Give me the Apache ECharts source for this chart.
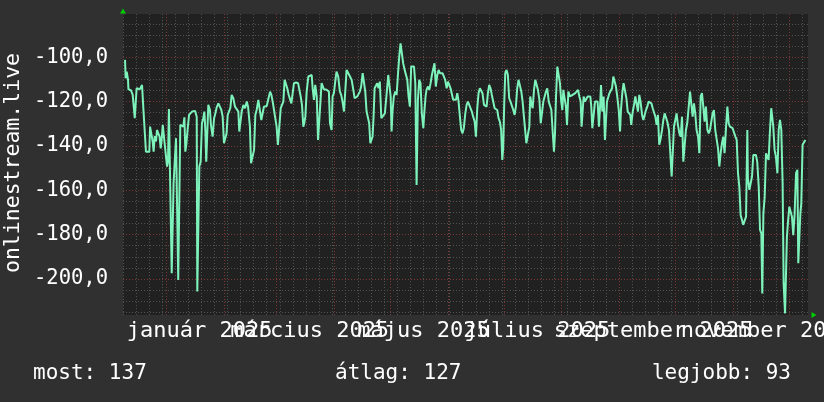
<!DOCTYPE html>
<html><head><meta charset="utf-8">
<script src="https://cdn.jsdelivr.net/npm/echarts@6/dist/echarts.min.js"></script>
<style>html,body{margin:0;padding:0;background:#303030;}#chart{width:824px;height:402px;}</style>
</head><body><div id="chart"></div>
<script>
// ---- data ----
const startDateUTC = Date.UTC(2024, 11, 9); // day 0 of the x axis
const totalDays = 367;
const dayOffsets = [
1.1,1.4,2.0,2.7,2.9,4.3,5.2,5.9,6.3,7.0,7.3,8.2,9.1,10.2,10.9,11.6,12.3,14.1,14.5,15.2,15.9,16.4,17.0,17.7,18.2,18.9,19.6,20.2,20.7,21.3,21.8,22.3,23.0,23.6,24.1,24.6,25.4,26.1,26.6,27.1,27.7,28.4,28.9,29.6,30.2,30.7,31.6,32.3,32.9,33.4,33.9,34.6,35.4,36.3,37.0,37.7,38.6,39.5,39.8,40.4,40.9,41.6,42.3,43.0,43.6,44.1,44.6,45.2,45.7,46.6,47.1,48.0,48.8,49.5,50.2,51.1,52.0,52.7,53.4,54.1,54.8,55.5,56.1,56.8,57.5,58.2,59.1,60.0,60.9,61.8,62.3,63.0,63.6,64.5,65.4,66.3,67.0,67.5,68.0,68.6,69.5,70.2,70.9,71.6,72.5,73.4,74.1,74.8,75.5,77.0,78.0,78.8,79.5,80.2,80.9,81.6,82.3,83.0,83.8,84.5,85.2,85.9,86.6,87.3,88.0,88.8,89.5,90.2,90.9,91.6,92.7,93.8,94.5,95.2,95.9,96.6,97.1,97.7,98.4,99.3,100.2,101.1,101.6,102.3,103.0,103.8,104.5,105.5,
106.4,107.6,109.1,110.3,110.9,111.75,112.3,113.0,113.7,114.4,115.3,116.2,116.9,117.6,118.4,119.1,119.8,120.7,121.6,122.5,123.4,124.1,124.8,125.5,126.2,126.9,127.6,128.4,129.1,129.8,130.5,131.4,131.9,132.5,133.2,133.7,134.25,134.8,135.5,136.2,136.9,137.6,138.4,139.4,140.3,141.2,142.1,142.6,143.4,143.9,144.4,145.1,145.9,146.6,147.3,148.0,148.7,149.4,150.1,150.9,151.6,152.3,153.0,153.7,154.4,155.1,155.9,156.6,157.3,158.0,158.7,159.4,160.1,160.9,161.4,162.1,162.6,163.4,164.1,164.8,165.5,166.2,166.9,167.6,168.4,169.1,169.8,170.5,171.2,171.9,172.6,173.4,174.1,174.8,175.5,176.2,176.9,177.6,178.4,179.1,179.8,180.5,181.2,181.9,182.6,183.4,184.1,184.8,185.5,186.2,186.9,187.6,188.4,189.1,189.8,190.5,191.2,191.9,192.6,193.4,194.1,194.8,195.5,196.2,196.9,197.6,198.4,199.1,199.8,200.5,201.2,201.9,202.6,203.2,203.7,204.25,204.8,205.5,206.2,206.9,207.6,208.4,209.1,209.8,210.5,211.2,211.9,212.6,
213.4,214.1,214.8,215.6,216.1,217.0,217.7,218.2,218.95,219.5,220.2,220.9,221.6,222.3,223.1,223.8,224.5,225.2,225.9,226.6,227.3,228.1,228.8,229.5,230.2,230.9,231.45,232.0,232.7,233.4,234.1,234.8,235.4,235.9,236.6,237.3,237.9,238.6,239.5,240.2,240.9,241.6,242.3,243.1,243.8,244.5,245.2,245.7,246.3,246.8,247.5,248.2,248.95,249.7,250.4,250.9,251.45,252.3,252.9,253.6,254.3,255.0,255.6,256.1,256.8,257.5,258.2,258.8,259.3,260.0,260.6,261.3,262.0,262.7,263.4,264.1,264.8,265.6,266.3,266.8,267.5,268.2,268.95,269.7,270.4,271.1,271.8,272.3,273.1,273.8,274.5,275.2,275.9,276.6,277.3,278.1,278.8,279.5,280.2,280.9,281.6,282.3,283.1,283.8,284.5,285.2,285.9,286.6,287.3,288.1,288.8,289.5,290.2,290.9,
291.6,292.5,293.1,293.95,294.7,295.2,295.9,296.6,297.3,298.1,298.8,299.5,300.2,300.9,301.6,302.3,303.1,303.8,304.5,305.2,305.9,306.6,307.3,308.1,308.8,309.5,310.2,310.9,311.6,312.3,313.1,313.8,314.5,315.2,315.9,316.6,317.3,318.1,318.8,319.5,320.2,320.9,321.6,322.3,323.1,323.8,324.5,325.2,325.9,326.6,327.3,328.1,328.8,329.5,330.2,330.9,331.6,332.3,333.1,333.8,334.5,334.8,335.6,336.3,337.0,337.7,338.4,339.1,339.8,340.6,341.3,342.0,342.5,343.1,343.8,344.5,345.2,345.9,346.6,347.3,347.9,348.4,349.1,349.8,350.6,351.3,352.0,352.7,353.4,353.95,354.7,355.2,355.7,356.3,357.0,357.7,358.4,359.1,359.8,360.6,361.3,361.8,362.3,362.9,363.4,364.1,364.8,365.6,365.9
];
const pingValues = [
-101.2,-109.5,-106.5,-110.2,-114.4,-115.0,-117.0,-117.7,-127.5,-127.5,-114.0,-113.2,-114.4,-112.5,-123.0,-123.8,-142.6,-142.6,-131.3,-132.0,-138.0,-142.6,-135.5,-138.0,-132.8,-134.3,-135.8,-141.1,-137.3,-130.5,-130.5,-138.8,-139.5,-149.3,-147.1,-123.3,-123.8,-197.4,-197.4,-156.8,-156.1,-136.5,-136.5,-200.5,-200.5,-130.5,-130.5,-131.3,-127.1,-142.6,-139.5,-132.8,-126.0,-125.6,-124.5,-123.8,-124.2,-126.8,-205.7,-205.7,-149.3,-147.1,-129.8,-127.5,-124.5,-132.8,-147.1,-146.3,-121.5,-123.8,-130.5,-135.8,-127.5,-125.3,-122.6,-120.8,-121.5,-123.8,-126.8,-138.8,-139.5,-134.3,-126.0,-125.3,-123.0,-117.0,-118.5,-122.3,-121.5,-124.5,-133.5,-134.3,-124.5,-121.5,-123.0,-120.0,-122.3,-121.5,-131.3,-147.8,-147.8,-141.8,-126.0,-123.8,-119.2,-120.0,-128.3,-127.5,-122.3,-122.0,-121.1,-115.5,-117.0,-120.0,-123.8,-124.5,-131.3,-139.5,-140.3,-123.0,-121.5,-120.0,-110.2,-110.2,-114.0,-117.0,-117.7,-120.8,-121.5,-111.7,-111.4,-111.7,-111.7,-117.7,-121.5,-131.3,-129.8,-126.8,-115.5,-108.7,-108.0,-108.0,-114.0,-119.2,-112.5,-117.7,-137.3,-137.3,
-111.7,-114.4,-114.7,-115.5,-129.8,-132.8,-117.7,-116.2,-111.0,-106.5,-108.7,-115.5,-117.0,-120.0,-124.5,-124.5,-105.7,-105.4,-108.7,-110.2,-114.7,-118.5,-119.2,-117.7,-117.0,-115.5,-113.2,-107.2,-107.2,-115.5,-124.5,-125.3,-129.8,-138.8,-138.8,-135.8,-126.8,-114.0,-114.0,-111.7,-114.0,-111.0,-127.5,-127.5,-125.3,-117.0,-108.0,-108.7,-117.7,-133.5,-124.5,-117.7,-115.5,-117.0,-108.0,-99.7,-93.7,-93.7,-102.7,-105.7,-106.5,-110.2,-117.7,-122.3,-104.2,-103.5,-104.2,-111.7,-157.6,-119.2,-110.2,-111.7,-125.3,-132.0,-125.3,-117.7,-114.7,-113.2,-114.7,-111.7,-108.0,-107.2,-102.7,-113.2,-108.0,-105.7,-107.2,-106.5,-107.2,-106.5,-110.2,-114.0,-111.0,-112.5,-114.0,-114.7,-119.2,-118.5,-119.2,-116.2,-120.0,-126.8,-132.8,-134.3,-132.0,-125.3,-121.5,-120.0,-121.5,-122.3,-124.5,-126.8,-129.0,-135.8,-123.0,-116.2,-114.0,-114.0,-116.2,-121.5,-122.3,-122.3,-116.2,-112.5,-114.0,-117.0,-117.7,-123.0,-123.8,-123.8,-127.5,-129.0,-132.8,-146.3,-141.1,-120.8,-107.2,-105.7,-108.0,-118.5,-120.0,-120.8,-123.8,-126.0,-122.3,-114.0,-110.2,-110.2,
-115.5,-120.0,-126.8,-127.5,-138.8,-139.5,-131.3,-117.7,-121.5,-123.0,-114.7,-110.2,-109.5,-114.7,-119.2,-129.8,-130.5,-120.0,-117.7,-115.5,-114.0,-120.0,-120.8,-123.8,-133.5,-142.6,-134.3,-117.7,-104.2,-103.9,-111.7,-120.0,-123.8,-114.7,-114.7,-122.3,-130.5,-115.5,-117.7,-117.7,-117.0,-117.0,-116.2,-115.5,-114.7,-117.7,-120.0,-131.3,-131.3,-117.7,-120.0,-119.2,-117.7,-117.0,-117.7,-122.3,-132.0,-131.3,-120.0,-119.2,-120.0,-131.3,-122.3,-112.5,-124.5,-117.7,-137.3,-137.3,-120.0,-120.0,-116.2,-115.5,-114.0,-108.7,-108.7,-113.2,-117.7,-123.8,-133.5,-123.8,-116.2,-111.7,-111.4,-118.5,-124.5,-124.5,-126.0,-130.5,-124.5,-121.5,-117.7,-118.5,-124.5,-117.0,-120.0,-126.0,-128.3,-129.0,-123.8,-122.3,-120.0,-119.2,-120.8,-123.0,-123.8,-126.8,-130.5,-126.0,-139.5,-136.5,-132.8,-128.3,-125.3,-125.3,
-129.0,-132.8,-133.5,-153.8,-153.8,-131.3,-128.3,-125.3,-130.5,-134.3,-135.8,-126.8,-147.1,-147.8,-132.8,-129.8,-122.3,-115.5,-114.7,-126.8,-120.8,-125.3,-132.8,-135.8,-143.3,-117.7,-116.2,-122.3,-129.0,-122.3,-132.8,-134.3,-132.8,-133.5,-125.3,-123.8,-132.8,-137.3,-141.1,-149.3,-143.3,-138.8,-135.8,-143.3,-131.3,-122.3,-129.8,-131.3,-131.3,-132.0,-132.8,-135.8,-137.3,-152.3,-158.3,-171.1,-171.1,-175.6,-175.6,-171.9,-132.8,-154.6,-159.8,-159.1,-153.8,-144.1,-143.3,-144.1,-147.1,-158.3,-177.9,-179.4,-206.5,-170.4,-162.9,-143.3,-144.8,-146.3,-133.5,-123.0,-123.8,-131.3,-141.8,-144.8,-152.3,-132.8,-128.3,-132.8,-156.8,-202.0,-215.5,-215.5,-180.9,-174.1,-167.4,-168.1,-171.9,-180.2,-171.1,-152.3,-150.8,-192.9,-192.9,-170.4,-165.9,-139.5,-138.8,-137.3,-137.3
];
const labelMonths = [0, 2, 4, 6, 8, 10];           // months of 2025 that carry a label
const labelTexts = ['január 2025', 'március 2025', 'május 2025', 'július 2025', 'szeptember 2025', 'november 2025'];
const yTitle = 'onlinestream.live';
const statNames = ['most', 'átlag', 'legjobb'];
const statValues = [137, 127, 93];

// ---- styling constants ----
const FONT = 'DejaVu Sans Mono';
const GRAY = '#525252';
const RED = '#7c3636';
const NONE = 'rgba(0,0,0,0)';
const DAY = 86400000;
const LABEL_SHIFT_DAYS = 18;

// vertical grid: weekly (Monday) minor lines, monthly major lines
const xColors = [];
for (let d = 0; d <= totalDays; d++) {
  const dt = new Date(startDateUTC + d * DAY);
  if (dt.getUTCDate() === 1) xColors.push(RED);
  else if (dt.getUTCDay() === 1) xColors.push(GRAY);
  else xColors.push(NONE);
}
const labelAt = {};
labelMonths.forEach((m, i) => {
  const d = Math.round((Date.UTC(2025, m, 1) - startDateUTC) / DAY) + LABEL_SHIFT_DAYS;
  labelAt[d] = labelTexts[i];
});

// horizontal grid: ticks every 1.25 from -216.25; minor every 5, major every 20
const yMin = -216.25, yMax = -80.5, yStep = 1.25;
const yColors = [];
for (let i = 0; i < 16; i++) {
  const v = yMin + i * yStep;
  const r = ((v % 20) + 20) % 20, r5 = ((v % 5) + 5) % 5;
  yColors.push(Math.abs(r) < 1e-6 ? RED : (Math.abs(r5) < 1e-6 ? GRAY : NONE));
}

const seriesData = dayOffsets.map((d, i) => [d, pingValues[i]]);

const chart = echarts.init(document.getElementById('chart'), null, {renderer: 'canvas'});
chart.setOption({
  backgroundColor: '#303030',
  animation: false,
  grid: {left: 123, right: 16, top: 14, bottom: 87, show: true, backgroundColor: '#212121', borderWidth: 0,
    containLabel: false, outerBoundsMode: 'none'},
  xAxis: {
    type: 'value', min: 0, max: totalDays, interval: 1,
    axisLine: {show: true, onZero: false, symbol: ['none', 'triangle'], symbolSize: [6, 5], symbolOffset: [0, 6],
      lineStyle: {color: '#00cc00', width: 0}},
    axisTick: {show: false},
    splitLine: {show: true, lineStyle: {color: xColors, width: 1, type: [1, 2]}},
    axisLabel: {
      show: true, showMinLabel: false, showMaxLabel: false, margin: 5,
      color: '#ffffff', fontFamily: FONT, fontSize: 22,
      formatter: v => labelAt[Math.round(v)] || ''
    }
  },
  yAxis: {
    type: 'value', min: yMin, max: yMax, interval: yStep,
    axisLine: {show: true, onZero: false, symbol: ['none', 'triangle'], symbolSize: [6, 5], symbolOffset: [0, 3],
      lineStyle: {color: '#00cc00', width: 0}},
    axisTick: {show: false},
    splitLine: {show: true, showMaxLine: false, lineStyle: {color: yColors, width: 1, type: [1, 2]}},
    axisLabel: {
      show: true, showMinLabel: false, showMaxLabel: false, margin: 15,
      padding: [4, 0, 0, 0],
      color: '#ffffff', fontFamily: FONT, fontSize: 20.5,
      formatter: v => {
        const r = Math.round(v);
        return (Math.abs(v - r) < 1e-6 && r % 20 === 0) ? v.toFixed(1).replace('.', ',') : '';
      }
    }
  },
  series: [{
    type: 'line', data: seriesData, showSymbol: false, symbol: 'none',
    lineStyle: {color: '#7df2ba', width: 2}, clip: true, z: 5
  }],
  graphic: [
    {type: 'text', x: 13, y: 163, rotation: Math.PI / 2,
      style: {text: yTitle, fill: '#ffffff', font: '21.5px "' + FONT + '"', align: 'center', verticalAlign: 'middle'}},
    {type: 'text', x: 33, y: 374,
      style: {text: statNames[0] + ': ' + statValues[0], fill: '#ffffff', font: '21px "' + FONT + '"', align: 'left', verticalAlign: 'middle'}},
    {type: 'text', x: 335, y: 374,
      style: {text: statNames[1] + ': ' + statValues[1], fill: '#ffffff', font: '21px "' + FONT + '"', align: 'left', verticalAlign: 'middle'}},
    {type: 'text', x: 791, y: 374,
      style: {text: statNames[2] + ': ' + statValues[2], fill: '#ffffff', font: '21px "' + FONT + '"', align: 'right', verticalAlign: 'middle'}}
  ]
});
</script>
</body></html>
